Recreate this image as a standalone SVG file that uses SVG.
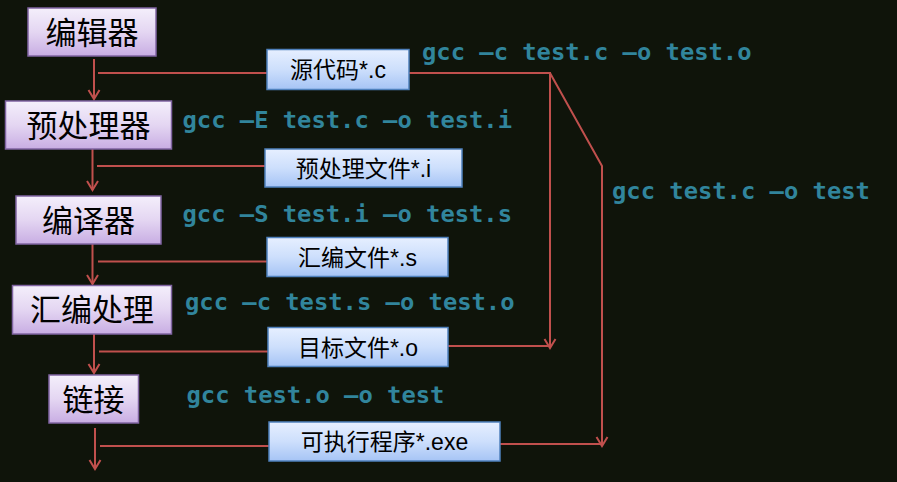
<svg xmlns="http://www.w3.org/2000/svg" width="897" height="482" viewBox="0 0 897 482">
  <defs>
    <linearGradient id="gp" x1="0" y1="0" x2="0" y2="1">
      <stop offset="0" stop-color="#f4effb"/>
      <stop offset="0.5" stop-color="#e4d6f2"/>
      <stop offset="1" stop-color="#c8ade3"/>
    </linearGradient>
    <linearGradient id="gb" x1="0" y1="0" x2="0" y2="1">
      <stop offset="0" stop-color="#e6efff"/>
      <stop offset="0.5" stop-color="#cddffc"/>
      <stop offset="1" stop-color="#a6c4f5"/>
    </linearGradient>
    <marker id="arr" viewBox="-10 -7 12 14" markerWidth="12" markerHeight="14" refX="0" refY="0" orient="auto" markerUnits="userSpaceOnUse">
      <path d="M-9,-5.5 L0,0 L-9,5.5" fill="none" stroke="#c0504d" stroke-width="2"/>
    </marker>
  </defs>
  <style>
    .tool rect { fill: url(#gp); stroke: #8064a2; stroke-width: 1.5; }
    .tool text { font-family: "Noto Sans CJK SC", sans-serif; font-size: 31px; fill: #000; text-anchor: middle; }
    .file rect { fill: url(#gb); stroke: #4f81bd; stroke-width: 1.5; }
    .file text { font-family: "Liberation Sans", "Noto Sans CJK SC", sans-serif; font-size: 23px; fill: #000; text-anchor: middle; }
    .cmd { font-family: "DejaVu Sans Mono", "Liberation Mono", monospace; font-weight: bold; font-size: 23.8px; fill: #31859c; }
    .ln { fill: none; stroke: #c0504d; stroke-width: 2; }
    .ar { marker-end: url(#arr); }
  </style>
  <rect x="0" y="0" width="897" height="482" fill="#0f140a"/>

  <g id="connectors">
    <path class="ln ar" d="M94,59 V99"/>
    <path class="ln ar" d="M92.5,149 V190"/>
    <path class="ln ar" d="M92.5,244 V284"/>
    <path class="ln ar" d="M94,334 V373"/>
    <path class="ln ar" d="M95,428 V469"/>
    <path class="ln" d="M98,73 H267"/>
    <path class="ln" d="M97,166 H265"/>
    <path class="ln" d="M98,261.5 H267"/>
    <path class="ln" d="M99,351.5 H268"/>
    <path class="ln" d="M100,446 H269"/>
    <path class="ln ar" d="M409,73 H550 V348"/>
    <path class="ln ar" d="M550,73 L602,166 V446"/>
    <path class="ln" d="M448,346 H550"/>
    <path class="ln" d="M500,444 H602"/>
  </g>

  <g id="n-editor" class="tool">
    <rect x="28" y="8" width="128" height="48"/>
    <text x="92" y="43.5">编辑器</text>
  </g>
  <g id="n-preproc" class="tool">
    <rect x="5.5" y="101" width="166" height="48"/>
    <text x="88.5" y="136.5">预处理器</text>
  </g>
  <g id="n-compiler" class="tool">
    <rect x="16" y="196" width="145" height="48"/>
    <text x="88.5" y="231.5">编译器</text>
  </g>
  <g id="n-assembler" class="tool">
    <rect x="12.5" y="285.5" width="159" height="48.5"/>
    <text x="92" y="321">汇编处理</text>
  </g>
  <g id="n-linker" class="tool">
    <rect x="49" y="375" width="89.5" height="48"/>
    <text x="93.5" y="410.5">链接</text>
  </g>

  <g id="f-src" class="file">
    <rect x="267" y="49.5" width="142" height="40"/>
    <text x="338" y="77.5">源代码*.c</text>
  </g>
  <g id="f-i" class="file">
    <rect x="265" y="149" width="197" height="38"/>
    <text x="363.5" y="176.5">预处理文件*.i</text>
  </g>
  <g id="f-s" class="file">
    <rect x="267" y="237.5" width="181" height="39"/>
    <text x="357.5" y="265.5">汇编文件*.s</text>
  </g>
  <g id="f-o" class="file">
    <rect x="268" y="327.5" width="180" height="39"/>
    <text x="358" y="355.5">目标文件*.o</text>
  </g>
  <g id="f-exe" class="file">
    <rect x="269" y="422" width="231" height="39"/>
    <text x="384.5" y="450">可执行程序*.exe</text>
  </g>

  <g id="commands">
    <text class="cmd" x="422" y="60">gcc –c test.c –o test.o</text>
    <text class="cmd" x="182.5" y="128">gcc –E test.c –o test.i</text>
    <text class="cmd" x="182.5" y="221.5">gcc –S test.i –o test.s</text>
    <text class="cmd" x="185" y="310">gcc –c test.s –o test.o</text>
    <text class="cmd" x="186.5" y="403">gcc test.o –o test</text>
    <text class="cmd" x="612" y="199">gcc test.c –o test</text>
  </g>
</svg>
